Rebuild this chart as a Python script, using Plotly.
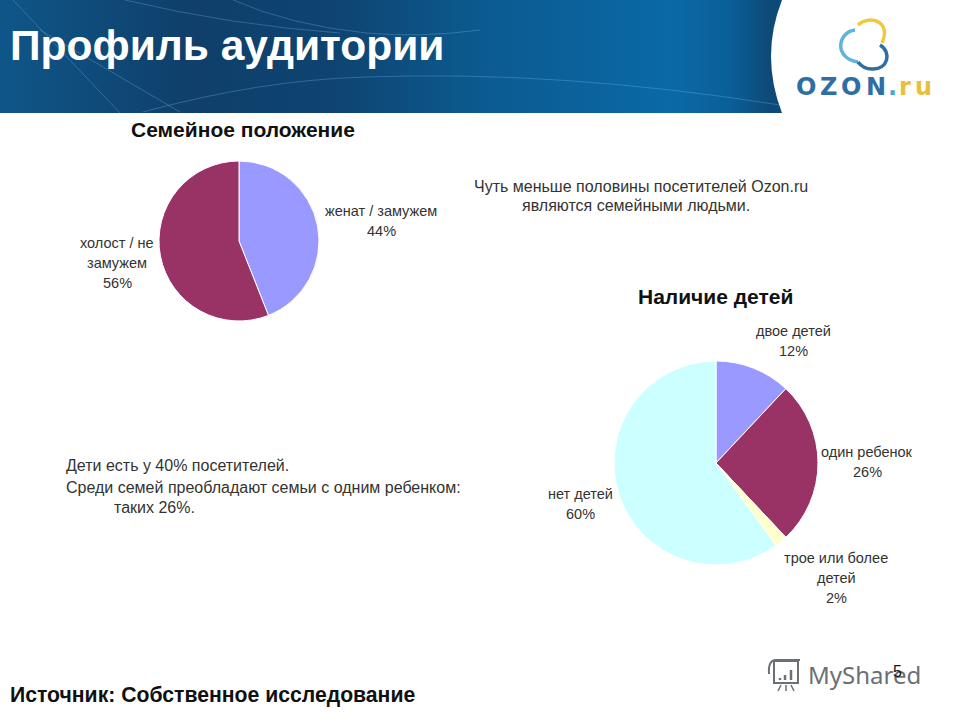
import plotly.graph_objects as go

# семейное положение
family_labels = ['женат / замужем', 'холост / не<br>замужем']
family_values = [44, 56]
family_colors = ['#9999ff', '#993366']

# наличие детей
kids_labels = ['двое детей', 'один ребенок', 'трое или более<br>детей', 'нет детей']
kids_values = [12, 26, 2, 60]
kids_colors = ['#9999ff', '#993366', '#ffffcc', '#ccffff']

W, H = 960, 720
TXT = '#333333'
FONT = 'Liberation Sans'


def dom(x0, x1, y0, y1):
    # пиксели -> доли страницы
    return dict(x=[x0 / W, x1 / W], y=[1 - y1 / H, 1 - y0 / H])


def label(x, y, text, size=14.5, color=TXT, bold=False, anchor='center', font=FONT):
    if bold:
        text = '<b>' + text + '</b>'
    return dict(x=x, y=y, xref='x', yref='y', text=text, showarrow=False, xanchor=anchor,
                yanchor='middle', font=dict(family=font, size=size, color=color))


def pie_label(x, y, name, value, step=20):
    # подпись сектора построчно: строки названия и затем процент
    lines = name.split('<br>') + [str(value) + '%']
    return [label(x, y + i * step, line) for i, line in enumerate(lines)]


def curve(path, color, width):
    return dict(type='path', path=path, xref='x', yref='y', layer='above',
                line=dict(color=color, width=width))


fig = go.Figure()

# шапка слайда
fig.add_trace(go.Scatter(
    x=[0, 960, 960, 0, 0], y=[0, 0, 113, 113, 0], mode='lines', fill='toself',
    line=dict(width=0), hoverinfo='skip', showlegend=False,
    fillgradient=dict(type='horizontal', colorscale=[
        [0, '#0f5688'], [0.2, '#0f3f6a'], [0.35, '#0e4471'], [0.5, '#0c5a90'],
        [0.7, '#0a69a6'], [0.76, '#0a5f98'], [0.8, '#0e4a78'], [1, '#0e4a78']]),
))

fig.add_trace(go.Pie(
    values=family_values, labels=family_labels, marker=dict(colors=family_colors, line=dict(color='white', width=1)),
    sort=False, direction='clockwise', rotation=0, textinfo='none', hoverinfo='skip',
    showlegend=False, domain=dom(159, 319, 161, 321),
))
fig.add_trace(go.Pie(
    values=kids_values, labels=kids_labels, marker=dict(colors=kids_colors, line=dict(color='white', width=1)),
    sort=False, direction='clockwise', rotation=0, textinfo='none', hoverinfo='skip',
    showlegend=False, domain=dom(614, 818, 361, 565),
))

ann = [
    label(8, 45, 'Профиль аудитории', size=42.5, color='white', bold=True, anchor='left'),
    label(243, 129, 'Семейное положение', size=21, color='#111111', bold=True),
    label(715, 296, 'Наличие детей', size=21, color='#111111', bold=True),
    label(641, 186, 'Чуть меньше половины посетителей Ozon.ru', size=16),
    label(636, 205, 'являются семейными людьми.', size=16),
    label(64, 465, 'Дети есть у 40% посетителей.', size=16, anchor='left'),
    label(64, 487, 'Среди семей преобладают семьи с одним ребенком:', size=16, anchor='left'),
    label(112, 507, 'таких 26%.', size=16, anchor='left'),
    label(8, 695, 'Источник: Собственное исследование', size=21.2, color='#111111', bold=True, anchor='left'),
    label(806, 674, 'MyShared', size=24, color='#6b7074', anchor='left', font='Noto Sans'),
    label(897, 671, '5', size=16, color='#111111'),
]
ann += pie_label(381, 211, family_labels[0], family_values[0])
ann += pie_label(117, 243, family_labels[1], family_values[1])
ann += pie_label(793, 331, kids_labels[0], kids_values[0])
ann += pie_label(867, 452, kids_labels[1], kids_values[1])
ann += pie_label(836, 558, kids_labels[2], kids_values[2])
ann += pie_label(580, 494, kids_labels[3], kids_values[3])

# логотип по буквам, шрифта такой ширины нет
for ch, x, col in [('O', 806, '#2f6ea5'), ('Z', 828, '#2f6ea5'), ('O', 851, '#2f6ea5'), ('N', 876, '#2f6ea5'),
                   ('.', 892, '#4aa8d8'), ('r', 905, '#e8c13a'), ('u', 923, '#e8c13a')]:
    ann.append(label(x, 87, ch, size=24, color=col, bold=True, font='DejaVu Sans'))

shapes = [
    curve('M13,0 L120,113', 'rgba(130,195,235,0.3)', 1),
    curve('M40,30 L180,112', 'rgba(130,195,235,0.3)', 1),
    curve('M125,0 Q230,25 340,33', 'rgba(130,195,235,0.3)', 1),
    curve('M233,0 Q290,25 366,33 Q420,38 480,30', 'rgba(130,195,235,0.3)', 1),
    curve('M143,112 Q260,80 366,77 Q560,70 780,105', 'rgba(130,195,235,0.3)', 1),
    # белый вырез под логотип
    dict(type='path', path='M782,0 Q760,56 782,113 L960,113 L960,0 Z', xref='x', yref='y',
         layer='above', fillcolor='white', line=dict(width=0)),
    curve('M855,30 C838,32 833,58 858,62', '#5fb4dc', 3.5),
    curve('M858,25 C868,15 892,20 882,43', '#f0c83c', 3.5),
    curve('M880,45 C892,52 888,70 872,69 C866,69 861,66 858,62', '#2f6ea5', 3.5),
    # значок презентации у водяного знака
    dict(type='rect', x0=774, x1=798, y0=661, y1=683, xref='x', yref='y', layer='above',
         line=dict(color='#6b7074', width=2)),
    curve('M769,674 Q768,660 776,660 L800,660', '#6b7074', 2),
    curve('M780,680 L780,678', '#6b7074', 2.5),
    curve('M785,680 L785,675', '#6b7074', 2.5),
    curve('M791,680 L791,670', '#6b7074', 2.5),
    curve('M781,685 L778,691', '#6b7074', 1.5),
    curve('M786,685 L786,691', '#6b7074', 1.5),
    curve('M791,685 L794,691', '#6b7074', 1.5),
]

fig.update_layout(
    width=W, height=H, margin=dict(l=0, r=0, t=0, b=0), autosize=False,
    paper_bgcolor='white', plot_bgcolor='white', annotations=ann, shapes=shapes,
    xaxis=dict(range=[0, W], visible=False, fixedrange=True),
    yaxis=dict(range=[H, 0], visible=False, fixedrange=True),
)

# убираем отступ body, иначе всё съезжает на 8px
fig.write_html("out.html", post_script="document.body.style.margin='0';", config=dict(displayModeBar=False))
